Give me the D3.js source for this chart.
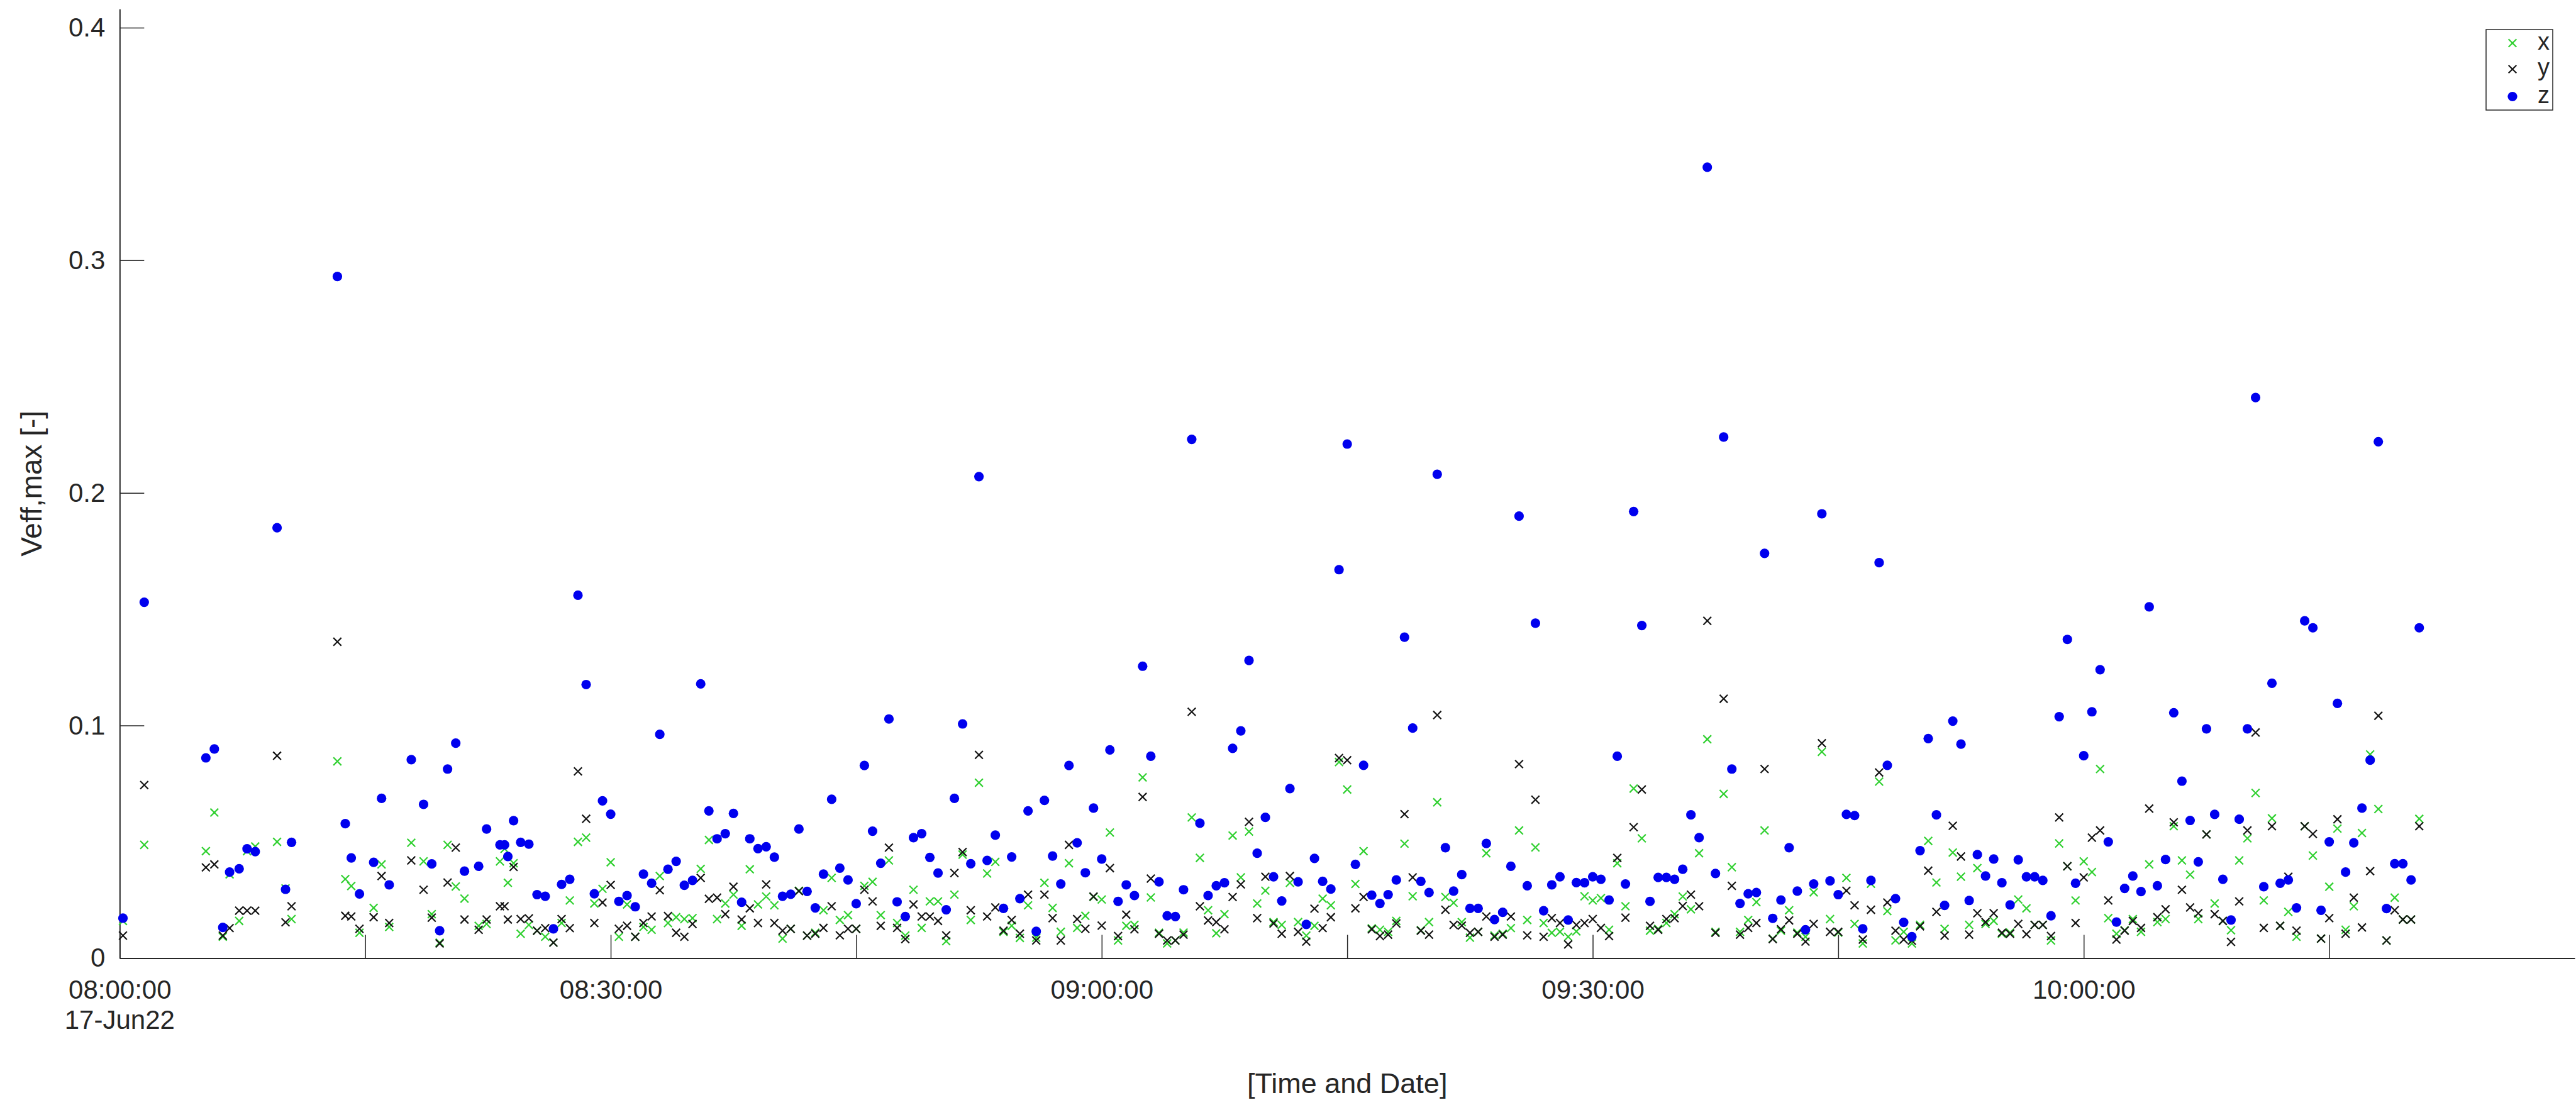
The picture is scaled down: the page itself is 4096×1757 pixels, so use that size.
<!DOCTYPE html>
<html>
<head>
<meta charset="utf-8">
<script src="https://cdn.jsdelivr.net/npm/d3@7"></script>
<style>
  html, body { margin: 0; padding: 0; background: #fff; }
  svg { display: block; }
  text { font-family: "Liberation Sans", Arial, Helvetica, sans-serif; fill: #262626; }
</style>
</head>
<body>
<svg id="chart" width="4096" height="1757"></svg>
<script>
// sample times (17-Jun-2022)
var times = [
  "08:00:12","08:01:30","08:05:16","08:05:47","08:06:18","08:06:43","08:07:18","08:07:47","08:08:17","08:09:37",
  "08:10:08","08:10:30","08:13:18","08:13:47","08:14:09","08:14:39","08:15:31","08:16:00","08:16:28","08:17:49",
  "08:18:34","08:19:04","08:19:33","08:20:02","08:20:32","08:21:04","08:21:56","08:22:25","08:23:14","08:23:31",
  "08:23:43","08:24:04",
  "08:24:30","08:25:00","08:25:30","08:26:00","08:26:30","08:27:00","08:27:30","08:28:00","08:28:30","08:29:00",
  "08:29:30","08:30:00","08:30:30","08:31:00","08:31:30","08:32:00","08:32:30","08:33:00","08:33:30","08:34:00",
  "08:34:30","08:35:00","08:35:30","08:36:00","08:36:30","08:37:00","08:37:30","08:38:00","08:38:30","08:39:00",
  "08:39:30","08:40:00","08:40:30","08:41:00","08:41:30","08:42:00",
  "08:42:30","08:43:00","08:43:30","08:44:00","08:44:30","08:45:00","08:45:30","08:46:00","08:46:30","08:47:00",
  "08:47:30","08:48:00","08:48:30","08:49:00","08:49:30","08:50:00","08:50:30","08:51:00","08:51:30","08:52:00",
  "08:52:30","08:53:00","08:53:30","08:54:00","08:54:30","08:55:00","08:55:30","08:56:00","08:56:30","08:57:00",
  "08:57:30","08:58:00","08:58:30","08:59:00","08:59:30","09:00:00","09:00:30","09:01:00","09:01:30","09:02:00",
  "09:02:30","09:03:00",
  "09:03:30","09:04:00","09:04:30","09:05:00","09:05:30","09:06:00","09:06:30","09:07:00","09:07:30","09:08:00",
  "09:08:30","09:09:00","09:09:30","09:10:00","09:10:30","09:11:00","09:11:30","09:12:00","09:12:30","09:13:00",
  "09:13:30","09:14:00","09:14:30","09:15:00","09:15:30","09:16:00","09:16:30","09:17:00","09:17:30","09:18:00",
  "09:18:30","09:19:00","09:19:30","09:20:00","09:20:30","09:21:00","09:21:30","09:22:00","09:22:30","09:23:00",
  "09:23:30","09:24:00","09:24:30",
  "09:25:00","09:25:30","09:26:00","09:26:30","09:27:00","09:27:30","09:28:00","09:28:30","09:29:00","09:29:30",
  "09:30:00","09:30:30","09:31:00","09:31:30","09:32:00","09:32:30","09:33:00","09:33:30","09:34:00","09:34:30",
  "09:35:00","09:35:30","09:36:00","09:36:30","09:37:00","09:37:30","09:38:00","09:38:30","09:39:00","09:39:30",
  "09:40:00","09:40:30","09:41:00","09:41:30","09:42:00","09:42:30","09:43:00","09:43:30","09:44:00","09:44:30",
  "09:45:00",
  "09:45:30","09:46:00","09:46:30","09:47:00","09:47:30","09:48:00","09:48:30","09:49:00","09:49:30","09:50:00",
  "09:50:30","09:51:00","09:51:30","09:52:00","09:52:30","09:53:00","09:53:30","09:54:00","09:54:30","09:55:00",
  "09:55:30","09:56:00","09:56:30","09:57:00","09:57:30","09:58:00","09:58:30","09:59:00","09:59:30","10:00:00",
  "10:00:30","10:01:00","10:01:30","10:02:00","10:02:30","10:03:00","10:03:30","10:04:00","10:04:30","10:05:00",
  "10:05:30","10:06:00","10:06:30",
  "10:07:00","10:07:30","10:08:00","10:08:30","10:09:00","10:09:30","10:10:00","10:10:30","10:11:00","10:11:30",
  "10:12:00","10:12:30","10:13:00","10:13:30","10:14:00","10:14:30","10:15:00","10:15:30","10:16:00","10:16:30",
  "10:17:00","10:17:30","10:18:00","10:18:30","10:19:00","10:19:30","10:20:00","10:20:30"
];

// Veff,max per direction
var xVals = [
  .016,.0487,.046,.0626,.0092,.036,.016,.046,.048,.05, .03,.0168,.0846,.034,.031,.0109,.0216,.0403,.0134,.0496,
  .0416,.0189,.0067,.0487,.0308,.0256,.0139,.0147,.0416,.047, .0324,.0408,
  .0105,.0143,.0118,.0092,.0067,.0151,.0248,.05,.0518,.0235, .0298,.0412,.0092,.0231,.0092,.0134,.0122,.0353,.0151,.0176,
  .0168,.0172,.0384,.0508,.0168,.0235,.0273,.0139,.0382,.0231, .0265,.0227,.0084,.0126,.029,.0097,
  .0109,.0206,.0345,.0164,.0185,.0126,.0311,.0328,.0185,.042, .0151,.0097,.0294,.013,.0244,.0244,.0073,.0273,.0445,.0164,
  .0754,.0364,.0414,.0113,.0139,.0087,.0227,.0088,.0324,.0216, .0113,.0408,.013,.0182,.0263,.0252,.054,.0076,.0139,.0143,
  .0777,.0261,
  .0109,.0063,.0076,.011,.0605,.0431,.0206,.0107,.0189,.0527, .0347,.0544,.0235,.029,.0155,.0143,.0324,.0155,.0097,.0139,
  .0256,.0227,.0843,.0725,.0319,.046,.0128,.0122,.0113,.016, .0492,.0266,.012,.0155,.067,.0263,.0238,.0155,.0088,.0113,
  .0451,.0097,.0105,
  .0129,.0549,.0164,.0476,.0151,.0109,.0113,.0092,.0115,.0266, .0248,.0258,.0122,.0408,.0223,.0729,.0515,.0118,.0126,.0151,
  .0189,.0265,.021,.0451,.0941,.0113,.0706,.0391,.0113,.0164, .0241,.0549,.0084,.0118,.0206,.011,.0092,.0283,.0887,.0168,
  .011,
  .0345,.0147,.0063,.032,.0759,.0202,.0076,.0113,.0063,.0143, .0504,.0325,.0126,.0454,.035,.0143,.0387,.0147,.016,.0105,
  .011,.0252,.0214,.0143,.0143,.0076,.0493,.0395,.0248,.0416, .037,.0813,.0172,.0105,.012,.0168,.0113,.0403,.0155,.0168,
  .0567,.042,.0359,
  .0168,.0532,.0235,.016,.012,.042,.0515,.071,.0248,.0601, .0139,.0199,.0092,.0567,.0441,.0084,.0307,.0557,.0122,.0223,
  .0538,.0876,.0641,.0076,.026,.0166,.0166,.0599
];

var yVals = [
  .0097,.0744,.039,.0403,.0097,.0129,.0204,.0204,.0204,.087, .0154,.0223,.136,.0182,.0179,.0126,.0176,.0353,.0151,.042,
  .0294,.0174,.0063,.0325,.0475,.0166,.0122,.0166,.0223,.0223, .0166,.0392,
  .0168,.0171,.0118,.0129,.0067,.0168,.0129,.0803,.0599,.0151, .0239,.0315,.0126,.0139,.0092,.0151,.0179,.0292,.0181,.0109,
  .0092,.0147,.0345,.0255,.026,.0189,.0307,.0166,.0214,.0151, .0317,.0151,.0118,.0126,.0288,.0097,
  .0105,.013,.0223,.0098,.0126,.0126,.0294,.0244,.0139,.0475, .013,.0082,.0231,.0179,.0179,.016,.0098,.0366,.0456,.0206,
  .0874,.0179,.0218,.0118,.0164,.0105,.0273,.0076,.0273,.0172, .0076,.0487,.0168,.0126,.0265,.014,.0387,.0095,.0187,.0124,
  .0693,.0342,
  .0105,.0076,.0076,.0101,.1059,.0223,.0162,.0155,.0124,.0263, .0317,.0586,.0172,.035,.0149,.0105,.0353,.0113,.0071,.0213,
  .0129,.0176,.086,.0851,.0214,.0263,.0124,.0095,.0101,.0149, .0619,.0347,.0118,.0101,.1045,.0208,.0143,.014,.0109,.0113,
  .0179,.0092,.0101,
  .0179,.0834,.0098,.0681,.0092,.0172,.0151,.0059,.0143,.0151, .0168,.013,.0095,.0431,.0174,.0563,.0725,.0139,.0122,.0168,
  .0172,.0224,.0273,.0223,.145,.0109,.1115,.0311,.0101,.013, .0151,.0813,.0082,.0124,.0162,.0105,.0071,.0147,.0924,.0113,
  .0113,
  .029,.0227,.008,.0208,.0798,.0239,.0118,.008,.0075,.0137, .0376,.0199,.0097,.0569,.0437,.0101,.0193,.0155,.0193,.0109,
  .0105,.0147,.0103,.0143,.0143,.0095,.0605,.0395,.0151,.0347, .0518,.0549,.0248,.008,.0118,.016,.013,.0643,.0176,.021,
  .0584,.0294,.0218,
  .0193,.0532,.0189,.016,.007,.0244,.0549,.097,.013,.0567, .0139,.035,.0118,.0567,.0534,.0084,.0172,.0597,.0105,.026,
  .0132,.0374,.1042,.0076,.0206,.0166,.0166,.0567
];

var zVals = [
  .0172,.153,.0861,.0899,.0132,.037,.0384,.047,.0458,.185, .0296,.0498,.293,.0578,.0431,.0276,.0412,.0687,.0315,.0853,
  .0661,.0405,.0118,.0813,.0924,.0374,.0395,.0555,.0487,.0487, .0437,.0591,
  .0498,.049,.0273,.0266,.0126,.0317,.0339,.156,.1176,.0277, .0676,.0619,.0244,.0269,.0221,.0361,.0322,.0962,.0382,.0416,
  .0313,.0334,.1179,.0633,.0513,.0535,.0622,.024,.0513,.0471, .0479,.0434,.0266,.0275,.0555,.0287,
  .0216,.0361,.0683,.0387,.0336,.0234,.0828,.0546,.0408,.1028, .0242,.0179,.0518,.0535,.0433,.0366,.0208,.0687,.1007,.0406,
  .207,.042,.0529,.0214,.0435,.0256,.0633,.0115,.0678,.0439, .0319,.0828,.0496,.0367,.0645,.0426,.0895,.0244,.0315,.0269,
  .1255,.0868,
  .0328,.0182,.0179,.0294,.223,.058,.0269,.0311,.0324,.0902, .0977,.128,.0451,.0605,.035,.0246,.0729,.0328,.0145,.0429,
  .033,.0297,.167,.221,.0403,.0829,.0271,.0235,.0273,.0336, .138,.0989,.033,.0282,.208,.0475,.0288,.0359,.0214,.0214,
  .0493,.0166,.0197,
  .0395,.19,.0311,.144,.0204,.0315,.035,.0164,.0325,.0324, .035,.0339,.025,.0868,.0319,.192,.143,.0244,.0347,.0347,
  .0339,.0382,.0616,.0518,.34,.0364,.224,.0813,.0235,.0277, .0282,.174,.0171,.025,.0475,.0288,.0122,.0319,.191,.0332,
  .0273,
  .0618,.0613,.0126,.0334,.17,.0829,.0256,.0154,.0092,.0462, .0944,.0616,.0227,.1019,.092,.0248,.0445,.0353,.0426,.0324,
  .0229,.0423,.035,.035,.0334,.0182,.1038,.137,.0322,.087, .1059,.124,.05,.0155,.03,.0353,.0286,.151,.0311,.0424,
  .1055,.0761,.0592,
  .0414,.0986,.0618,.0339,.0164,.0597,.0986,.241,.0307,.1182, .0322,.0336,.0216,.145,.142,.0206,.05,.1095,.037,.0496,
  .0645,.0851,.222,.0213,.0406,.0406,.0336,.142
];

var seriesNames = ["x", "y", "z"];
var xDomain = ["08:00:00", "10:30:00"];
var xTickTimes = ["08:00:00","08:15:00","08:30:00","08:45:00","09:00:00","09:15:00","09:30:00","09:45:00","10:00:00","10:15:00"];
var xTickLabels = ["08:00:00","08:30:00","09:00:00","09:30:00","10:00:00"];
var dateLabel = "17-Jun22";
var yTicks = [0, 0.1, 0.2, 0.3, 0.4];
var yMax = 0.408;

var parseTime = d3.timeParse("%H:%M:%S");
var fmtTime = d3.timeFormat("%H:%M:%S");

var svg = d3.select("#chart");
var axisColor = "#262626";

var x = d3.scaleTime()
  .domain(xDomain.map(parseTime))
  .range([190.3, 4094]);
var y = d3.scaleLinear()
  .domain([0, yMax])
  .range([1523.5, 14.3]);

// x axis: ticks every 15 min pointing inward, labels on the half hours
var xAxis = d3.axisBottom(x)
  .tickValues(xTickTimes.map(parseTime))
  .tickSize(-37)
  .tickSizeOuter(0)
  .tickPadding(35)
  .tickFormat(function(d) {
    var s = fmtTime(d);
    return xTickLabels.indexOf(s) >= 0 ? s : "";
  });

var gx = svg.append("g")
  .attr("transform", "translate(0," + y(0) + ")")
  .call(xAxis);

var yAxis = d3.axisLeft(y)
  .tickValues(yTicks)
  .tickSize(-39)
  .tickSizeOuter(0)
  .tickPadding(23)
  .tickFormat(function(d) { return d === 0 ? "0" : d3.format(".1f")(d); });

var gy = svg.append("g")
  .attr("transform", "translate(" + x(parseTime(xDomain[0])) + ",0)")
  .call(yAxis);

[gx, gy].forEach(function(g) {
  g.attr("font-family", null).attr("font-size", null);
  g.select(".domain").attr("stroke", axisColor).attr("stroke-width", 2);
  g.selectAll(".tick line").attr("stroke", axisColor).attr("stroke-width", 1.5);
  g.selectAll(".tick text").attr("fill", axisColor).style("font-size", "42px");
});

// date line under the first tick label
svg.append("text")
  .attr("x", x(parseTime(xTickLabels[0])))
  .attr("y", 1636)
  .attr("text-anchor", "middle")
  .style("font-size", "42px")
  .text(dateLabel);

// axis titles
svg.append("text")
  .attr("x", (x.range()[0] + x.range()[1]) / 2)
  .attr("y", 1738)
  .attr("text-anchor", "middle")
  .style("font-size", "45px")
  .text("[Time and Date]");

svg.append("text")
  .attr("transform", "translate(66," + (y.range()[0] + y.range()[1]) / 2 + ") rotate(-90)")
  .attr("text-anchor", "middle")
  .style("font-size", "46px")
  .text("Veff,max [-]");

// series
var xMark = "M-6.3,-6.3L6.3,6.3M-6.3,6.3L6.3,-6.3";
var series = [
  { name: seriesNames[0], values: xVals, color: "#30d030", shape: "x" },
  { name: seriesNames[1], values: yVals, color: "#141414", shape: "x" },
  { name: seriesNames[2], values: zVals, color: "#0000ee", shape: "dot" }
];

var dates = times.map(parseTime);

series.forEach(function(s) {
  var g = svg.append("g").attr("class", "series-" + s.name);
  var pts = s.values.map(function(v, i) { return { t: dates[i], v: v }; });
  if (s.shape === "dot") {
    g.selectAll("circle").data(pts).enter().append("circle")
      .attr("cx", function(d) { return x(d.t); })
      .attr("cy", function(d) { return y(d.v); })
      .attr("r", 7.6)
      .attr("fill", s.color);
  } else {
    g.selectAll("path").data(pts).enter().append("path")
      .attr("d", xMark)
      .attr("transform", function(d) { return "translate(" + x(d.t) + "," + y(d.v) + ")"; })
      .attr("fill", "none")
      .attr("stroke", s.color)
      .attr("stroke-width", 2.2);
  }
});

// legend
var legend = svg.append("g").attr("transform", "translate(3953,47)");
legend.append("rect")
  .attr("width", 106)
  .attr("height", 128)
  .attr("fill", "#fff")
  .attr("stroke", axisColor)
  .attr("stroke-width", 1.5);

var rowY = [21.5, 63, 106.5];
series.forEach(function(s, i) {
  var row = legend.append("g").attr("transform", "translate(0," + rowY[i] + ")");
  if (s.shape === "dot") {
    row.append("circle").attr("cx", 42).attr("cy", 0).attr("r", 7.6).attr("fill", s.color);
  } else {
    row.append("path").attr("d", xMark)
      .attr("transform", "translate(42,0)")
      .attr("fill", "none").attr("stroke", s.color).attr("stroke-width", 2.2);
  }
  row.append("text")
    .attr("x", 82)
    .attr("y", 10)
    .style("font-size", "38px")
    .text(s.name);
});
</script>
</body>
</html>
